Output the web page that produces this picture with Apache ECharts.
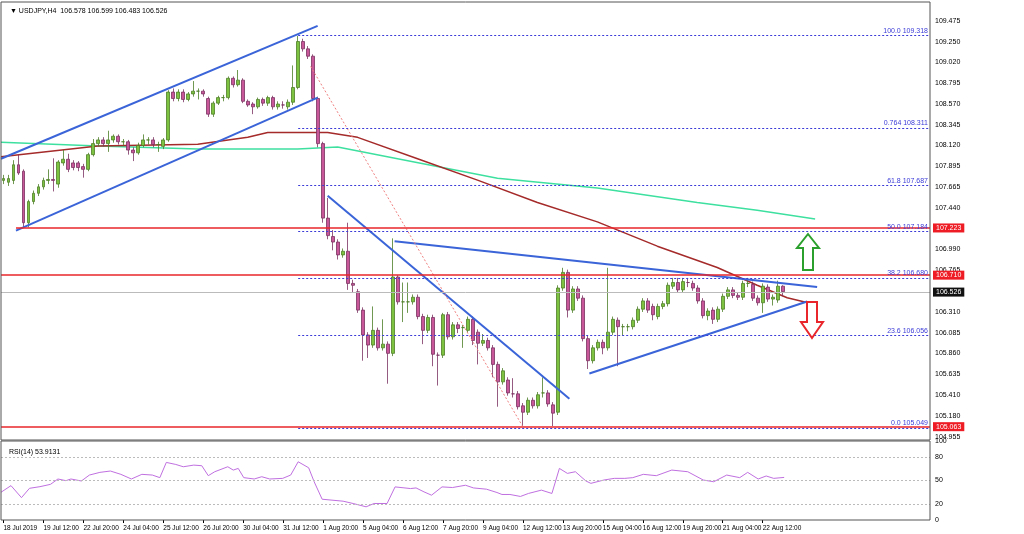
<!DOCTYPE html>
<html><head><meta charset="utf-8">
<script src="https://cdn.jsdelivr.net/npm/echarts@6/dist/echarts.min.js"></script>
<style>html,body{margin:0;padding:0;background:#fff}#c{width:1024px;height:534px}</style>
</head><body><div id="c"></div>
<script>
// ---- DATA ----
const timeLabels = ['18 Jul 2019','19 Jul 12:00','22 Jul 20:00','24 Jul 04:00','25 Jul 12:00','26 Jul 20:00','30 Jul 04:00','31 Jul 12:00','1 Aug 20:00','5 Aug 04:00','6 Aug 12:00','7 Aug 20:00','9 Aug 04:00','12 Aug 12:00','13 Aug 20:00','15 Aug 04:00','16 Aug 12:00','19 Aug 20:00','21 Aug 04:00','22 Aug 12:00'];
// [open, close, low, high]
const candles = [
[107.74,107.76,107.70,107.80],[107.72,107.76,107.68,107.80],[107.74,107.91,107.70,107.96],[107.91,107.82,107.80,108.02],
[107.84,107.28,107.23,107.86],[107.28,107.51,107.23,107.53],[107.51,107.60,107.48,107.63],[107.60,107.67,107.57,107.70],
[107.67,107.74,107.64,107.77],[107.74,107.75,107.70,107.86],[107.75,107.74,107.62,107.98],[107.70,107.94,107.66,107.96],
[107.93,107.97,107.90,108.07],[107.97,107.86,107.83,108.03],[107.93,107.88,107.85,107.96],[107.93,107.88,107.84,107.95],
[107.89,107.86,107.77,107.92],[107.86,108.02,107.84,108.04],[108.02,108.14,108.00,108.19],[108.14,108.18,108.11,108.21],
[108.18,108.14,108.11,108.21],[108.14,108.18,108.05,108.28],[108.18,108.22,108.15,108.24],[108.22,108.16,108.13,108.24],
[108.16,108.16,108.12,108.19],[108.16,108.07,108.02,108.18],[108.07,108.04,107.95,108.10],[108.04,108.12,108.02,108.15],
[108.12,108.18,108.10,108.24],[108.18,108.18,108.13,108.21],[108.18,108.13,108.10,108.21],[108.13,108.13,108.05,108.16],
[108.11,108.18,108.08,108.20],[108.18,108.70,108.16,108.72],[108.70,108.63,108.60,108.74],[108.63,108.70,108.60,108.73],
[108.70,108.62,108.59,108.73],[108.62,108.68,108.60,108.70],[108.68,108.71,108.65,108.82],[108.71,108.71,108.62,108.74],
[108.71,108.68,108.65,108.73],[108.63,108.46,108.43,108.65],[108.46,108.58,108.43,108.60],[108.58,108.64,108.56,108.66],
[108.64,108.64,108.60,108.67],[108.64,108.85,108.62,108.87],[108.85,108.78,108.75,108.87],[108.78,108.83,108.76,108.94],
[108.83,108.60,108.58,108.85],[108.60,108.56,108.54,108.62],[108.57,108.54,108.46,108.59],[108.54,108.62,108.52,108.64],
[108.62,108.58,108.55,108.64],[108.58,108.64,108.55,108.66],[108.64,108.54,108.51,108.66],[108.54,108.57,108.51,108.60],
[108.56,108.56,108.52,108.60],[108.54,108.59,108.51,108.62],[108.59,108.75,108.56,108.99],[108.75,109.25,108.73,109.31],
[109.25,109.17,109.14,109.28],[109.17,109.09,109.06,109.20],[109.09,108.63,108.60,109.11],[108.63,108.14,108.10,108.65],
[108.14,107.33,107.28,108.16],[107.33,107.14,107.10,107.55],[107.13,107.07,106.98,107.20],[107.07,106.93,106.88,107.10],
[106.93,106.97,106.90,107.00],[106.97,106.62,106.55,107.28],[106.62,106.60,106.52,106.66],[106.53,106.33,106.30,106.56],
[106.33,106.06,105.78,106.36],[106.06,105.95,105.81,106.09],[105.95,106.11,105.92,106.37],[106.11,105.92,105.89,106.14],
[105.92,105.96,105.89,106.23],[105.96,105.86,105.53,105.99],[105.86,106.69,105.83,107.11],[106.69,106.42,106.39,106.71],
[106.42,106.42,106.20,106.63],[106.42,106.42,106.30,106.63],[106.42,106.47,106.39,106.50],[106.47,106.26,106.23,106.50],
[106.26,106.11,105.96,106.29],[106.11,106.25,106.08,106.28],[106.25,105.85,105.72,106.28],[105.84,105.84,105.51,105.87],
[105.84,106.28,105.81,106.30],[106.28,106.04,106.01,106.31],[106.04,106.17,106.01,106.20],[106.17,106.13,106.08,106.20],
[106.14,106.14,105.92,106.17],[106.11,106.23,106.08,106.26],[106.23,106.00,105.95,106.26],[106.09,105.97,105.74,106.12],
[105.97,106.00,105.94,106.07],[106.00,105.92,105.89,106.03],[105.92,105.74,105.60,105.95],[105.74,105.55,105.28,105.77],
[105.55,105.67,105.52,105.70],[105.57,105.43,105.40,105.60],[105.42,105.42,105.38,105.59],[105.42,105.28,105.25,105.45],
[105.29,105.22,105.07,105.32],[105.22,105.35,105.19,105.38],[105.35,105.29,105.26,105.38],[105.29,105.41,105.26,105.44],
[105.43,105.43,105.38,105.60],[105.43,105.31,105.28,105.46],[105.30,105.21,105.07,105.33],[105.22,106.57,105.19,106.60],
[106.57,106.74,106.54,106.79],[106.74,106.33,106.25,106.77],[106.33,106.56,106.30,106.59],[106.56,106.46,106.43,106.59],
[106.46,106.02,105.99,106.49],[106.02,105.78,105.69,106.05],[105.78,105.92,105.75,105.95],[105.92,105.98,105.89,106.01],
[105.98,105.92,105.85,106.01],[105.92,106.09,105.89,106.79],[106.09,106.23,106.06,106.26],[106.22,106.15,105.72,106.25],
[106.15,106.15,106.05,106.18],[106.15,106.15,106.10,106.18],[106.15,106.22,106.12,106.25],[106.22,106.34,106.19,106.37],
[106.34,106.43,106.31,106.46],[106.43,106.33,106.30,106.46],[106.37,106.28,106.22,106.40],[106.26,106.37,106.23,106.40],
[106.37,106.40,106.34,106.43],[106.40,106.60,106.37,106.63],[106.59,106.63,106.56,106.68],[106.63,106.55,106.52,106.68],
[106.55,106.64,106.52,106.68],[106.63,106.63,106.58,106.68],[106.62,106.57,106.54,106.65],[106.57,106.43,106.40,106.60],
[106.43,106.27,106.24,106.46],[106.27,106.32,106.22,106.35],[106.33,106.23,106.18,106.36],[106.23,106.34,106.20,106.37],
[106.34,106.48,106.31,106.51],[106.48,106.55,106.45,106.58],[106.55,106.49,106.46,106.58],[106.49,106.47,106.44,106.52],
[106.47,106.62,106.44,106.65],[106.62,106.62,106.58,106.68],[106.61,106.46,106.43,106.64],[106.46,106.41,106.38,106.49],
[106.41,106.59,106.30,106.62],[106.58,106.45,106.42,106.61],[106.45,106.47,106.38,106.50],[106.44,106.59,106.41,106.65],
[106.59,106.53,106.48,106.60]
];
const maRed = [[-0.5,107.996],[18.9,108.113],[38.9,108.134],[48.9,108.208],[52.9,108.26],[64.9,108.26],[70.9,108.208],[82.9,107.975],[94.9,107.743],[106.9,107.50],[118.9,107.289],[130.9,107.025],[142.9,106.793],[150.9,106.60],[156.9,106.465],[162.5,106.391]];
const maGreen = [[-0.5,108.155],[18.9,108.113],[38.9,108.081],[58.9,108.081],[66.9,108.102],[78.9,107.975],[88.9,107.87],[98.9,107.764],[118.9,107.658],[138.9,107.50],[150.9,107.416],[162.5,107.32]];
const rsi = [[-0.5,35.1],[1.5,43.5],[3.6,28.3],[5.2,40.1],[7.3,42.2],[9.4,45.1],[10.9,51.9],[12.5,49.8],[13.5,51.9],[15.6,49.4],[17.2,56.9],[19.3,60.3],[21.4,62],[23.5,57.8],[25.6,51.9],[27.7,57.8],[29.8,56.9],[31.3,53.6],[32.6,72.9],[34.5,70.3],[36,67.4],[38.1,69.5],[39.7,68.7],[41,56.1],[42.3,61.1],[44.9,67.4],[46,63.2],[47,65.3],[48.1,53.6],[50.2,51.9],[51.7,54.8],[53.3,51.9],[55.9,52.7],[57.5,56.9],[59,73.7],[61.1,66.1],[62.2,48.4],[63.8,26.3],[68,23.8],[70,20.9],[72.6,16.7],[74.2,20.9],[76.8,20.9],[78.4,41.9],[81.5,39.8],[82.6,40.6],[84.2,35.6],[85.7,31.4],[87.8,41.9],[89.9,41.1],[92.5,44],[94.1,40.6],[96.7,39],[98.8,34.8],[99.8,32.3],[101.4,32.3],[103.5,29.8],[105.1,33.6],[107.7,37.8],[109.8,33.6],[111.3,65.3],[112.9,59],[114.5,61.1],[116.6,49.4],[117.6,46.4],[120.2,50.6],[122.3,52.7],[124.4,52.7],[126,53.6],[128.1,57.8],[130.7,56.1],[133.8,63.2],[137,61.1],[140.1,50.6],[142.2,48.4],[144.8,56.9],[147.4,53.6],[149,60.3],[151.1,51.9],[152.7,55.7],[154.2,52.7],[156.3,53.9]];
const trendLines = [
  {pts:[[-0.5,107.975],[62.9,109.42]], color:'#3a64d8', dash:'solid', w:2},
  {pts:[[2.5,107.194],[62.9,108.64]], color:'#3a64d8', dash:'solid', w:2},
  {pts:[[64.9,107.574],[113.3,105.367]], color:'#3a64d8', dash:'solid', w:2},
  {pts:[[78.3,107.078],[162.9,106.581]], color:'#3a64d8', dash:'solid', w:2},
  {pts:[[117.3,105.641],[160.9,106.423]], color:'#3a64d8', dash:'solid', w:2},
  {pts:[[61.5,108.979],[103.9,105.071]], color:'#f08080', dash:[2,2], w:1}
];
const fibNames = ['100.0 109.318','0.764 108.311','61.8 107.687','50.0 107.184','38.2 106.680','23.6 106.056','0.0 105.049'];
const fibPrices = [109.318,108.311,107.687,107.184,106.680,106.056,105.049];
const redLevels = [107.223,106.710,105.063];
const redStarts = [2.5,-0.5,-0.5];
const lastPrice = 106.526;
const yTickLabels = ['104.955','105.180','105.410','105.635','105.860','106.085','106.310','106.535','106.765','106.990','107.215','107.440','107.665','107.895','108.120','108.345','108.570','108.795','109.020','109.250','109.475'];
const rsiTickLabels = {0:'0',20:'20',50:'50',80:'80',100:'100'};

// ---- BUILD ----
const N = 186;
const cats = Array.from({length:N},(_,i)=> 'c'+i);
const labelOf = (i)=> (i%8===0 && timeLabels[i/8]) ? timeLabels[i/8] : '';
const kData = candles.map(c=>[c[0],c[1],c[2],c[3]]);
const YMIN = 104.729, YMAX = 109.701, YINT = 0.226;
const XMAX = N-0.5;
const hasLabel = (i)=> labelOf(i) !== '';

const markLineData = [];
fibPrices.forEach((p,k)=>{
  markLineData.push([{coord:[59,p], lineStyle:{color:'#3b3bd8',type:[2,2],width:1},
    label:{show:true,position:'insideEndTop',formatter:fibNames[k],color:'#3b3bd8',fontSize:7,distance:[2,1]}},{coord:[XMAX,p]}]);
});
redLevels.forEach((p,k)=>{
  markLineData.push([{coord:[redStarts[k],p], lineStyle:{color:'#e8262b',type:'solid',width:1.5},
    label:{show:true,position:'end',formatter:p.toFixed(3),color:'#fff',backgroundColor:'#ee1c24',fontSize:7,padding:[1,3],distance:3}},{coord:[XMAX,p]}]);
});
markLineData.push([{coord:[-0.5,lastPrice], lineStyle:{color:'#bbbbbb',type:'solid',width:1},
  label:{show:true,position:'end',formatter:lastPrice.toFixed(3),color:'#fff',backgroundColor:'#111',fontSize:7,padding:[1,3],distance:3}},{coord:[XMAX,lastPrice]}]);

const series = [
  {type:'line', xAxisIndex:1, yAxisIndex:0, data:maGreen, showSymbol:false, lineStyle:{color:'#3ee0a0',width:1.5}, silent:true, z:2},
  {type:'line', xAxisIndex:1, yAxisIndex:0, data:maRed, showSymbol:false, lineStyle:{color:'#a52a2a',width:1.5}, silent:true, z:2,
    markLine:{symbol:['none','none'], silent:true, data:markLineData}},
  {type:'candlestick', xAxisIndex:0, yAxisIndex:0, data:kData, barWidth:3.4, z:3,
    itemStyle:{color:'#7ec241',color0:'#c8579a',borderColor:'#4c7d26',borderColor0:'#7a3160',borderWidth:0.8}},
];
trendLines.forEach(t=>series.push({type:'line', xAxisIndex:1, yAxisIndex:0, data:t.pts, showSymbol:false, silent:true, z:4,
  lineStyle:{color:t.color,width:t.w,type:t.dash}}));
series.push({type:'line', xAxisIndex:3, yAxisIndex:1, data:rsi, showSymbol:false, silent:true,
  lineStyle:{color:'#c070e0',width:1},
  markLine:{symbol:['none','none'], silent:true, label:{show:false}, lineStyle:{color:'#bbb',type:[2,2],width:1},
    data:[{yAxis:80},{yAxis:50},{yAxis:20}]}});

const chart = echarts.init(document.getElementById('c'));
chart.setOption({
  animation:false,
  backgroundColor:'#fff',
  textStyle:{fontFamily:'Liberation Sans, Arial'},
  title:[
    {text:'\u25BC USDJPY,H4  106.578 106.599 106.483 106.526', left:5, top:3, textStyle:{fontSize:7,fontWeight:'normal',color:'#000'}},
    {text:'RSI(14) 53.9131', left:4, top:444, textStyle:{fontSize:7,fontWeight:'normal',color:'#000'}}
  ],
  grid:[
    {left:1, width:929, top:-13.4, height:470.8},
    {left:1, width:929, top:441, height:79}
  ],
  xAxis:[
    {type:'category', gridIndex:0, data:cats, show:false, boundaryGap:true},
    {type:'value', gridIndex:0, min:-0.5, max:XMAX, show:false},
    {type:'category', gridIndex:1, data:cats, boundaryGap:true, position:'bottom',
      axisLine:{show:false}, axisTick:{show:true, interval:(i)=>hasLabel(i), length:3, lineStyle:{color:'#000'}, alignWithLabel:true},
      axisLabel:{interval:(i)=>hasLabel(i), formatter:(v,i)=>labelOf(i), fontSize:6.5, color:'#000', align:'left', margin:5, hideOverlap:false}},
    {type:'value', gridIndex:1, min:-0.5, max:XMAX, show:false}
  ],
  yAxis:[
    {type:'value', gridIndex:0, position:'right', min:YMIN, max:YMAX, interval:YINT,
      axisLine:{show:false}, axisTick:{show:false}, splitLine:{show:false},
      axisLabel:{fontSize:7, color:'#000', margin:5, formatter:(v)=>{const k=Math.round((v-YMIN)/YINT)-1; return yTickLabels[k]||'';}}},
    {type:'value', gridIndex:1, position:'right', min:0, max:100, interval:10,
      axisLine:{show:false}, axisTick:{show:false}, splitLine:{show:false},
      axisLabel:{fontSize:7, color:'#000', margin:5, formatter:(v)=>rsiTickLabels[Math.round(v)]||''}}
  ],
  series:series,
  graphic:[
    {type:'rect', shape:{x:1,y:2,width:929,height:438}, style:{fill:'none',stroke:'#555',lineWidth:1}, silent:true, z:100},
    {type:'rect', shape:{x:1,y:441,width:929,height:79}, style:{fill:'none',stroke:'#555',lineWidth:1}, silent:true, z:100},
    {type:'polygon', shape:{points:[[808,234],[819,248],[813,248],[813,270],[803,270],[803,248],[797,248]]}, style:{fill:'#fff',stroke:'#2ca02c',lineWidth:2}, z:100},
    {type:'polygon', shape:{points:[[812,338],[823,322],[817,322],[817,302],[807,302],[807,322],[801,322]]}, style:{fill:'#fff',stroke:'#e8262b',lineWidth:2}, z:100}
  ]
});
</script></body></html>
